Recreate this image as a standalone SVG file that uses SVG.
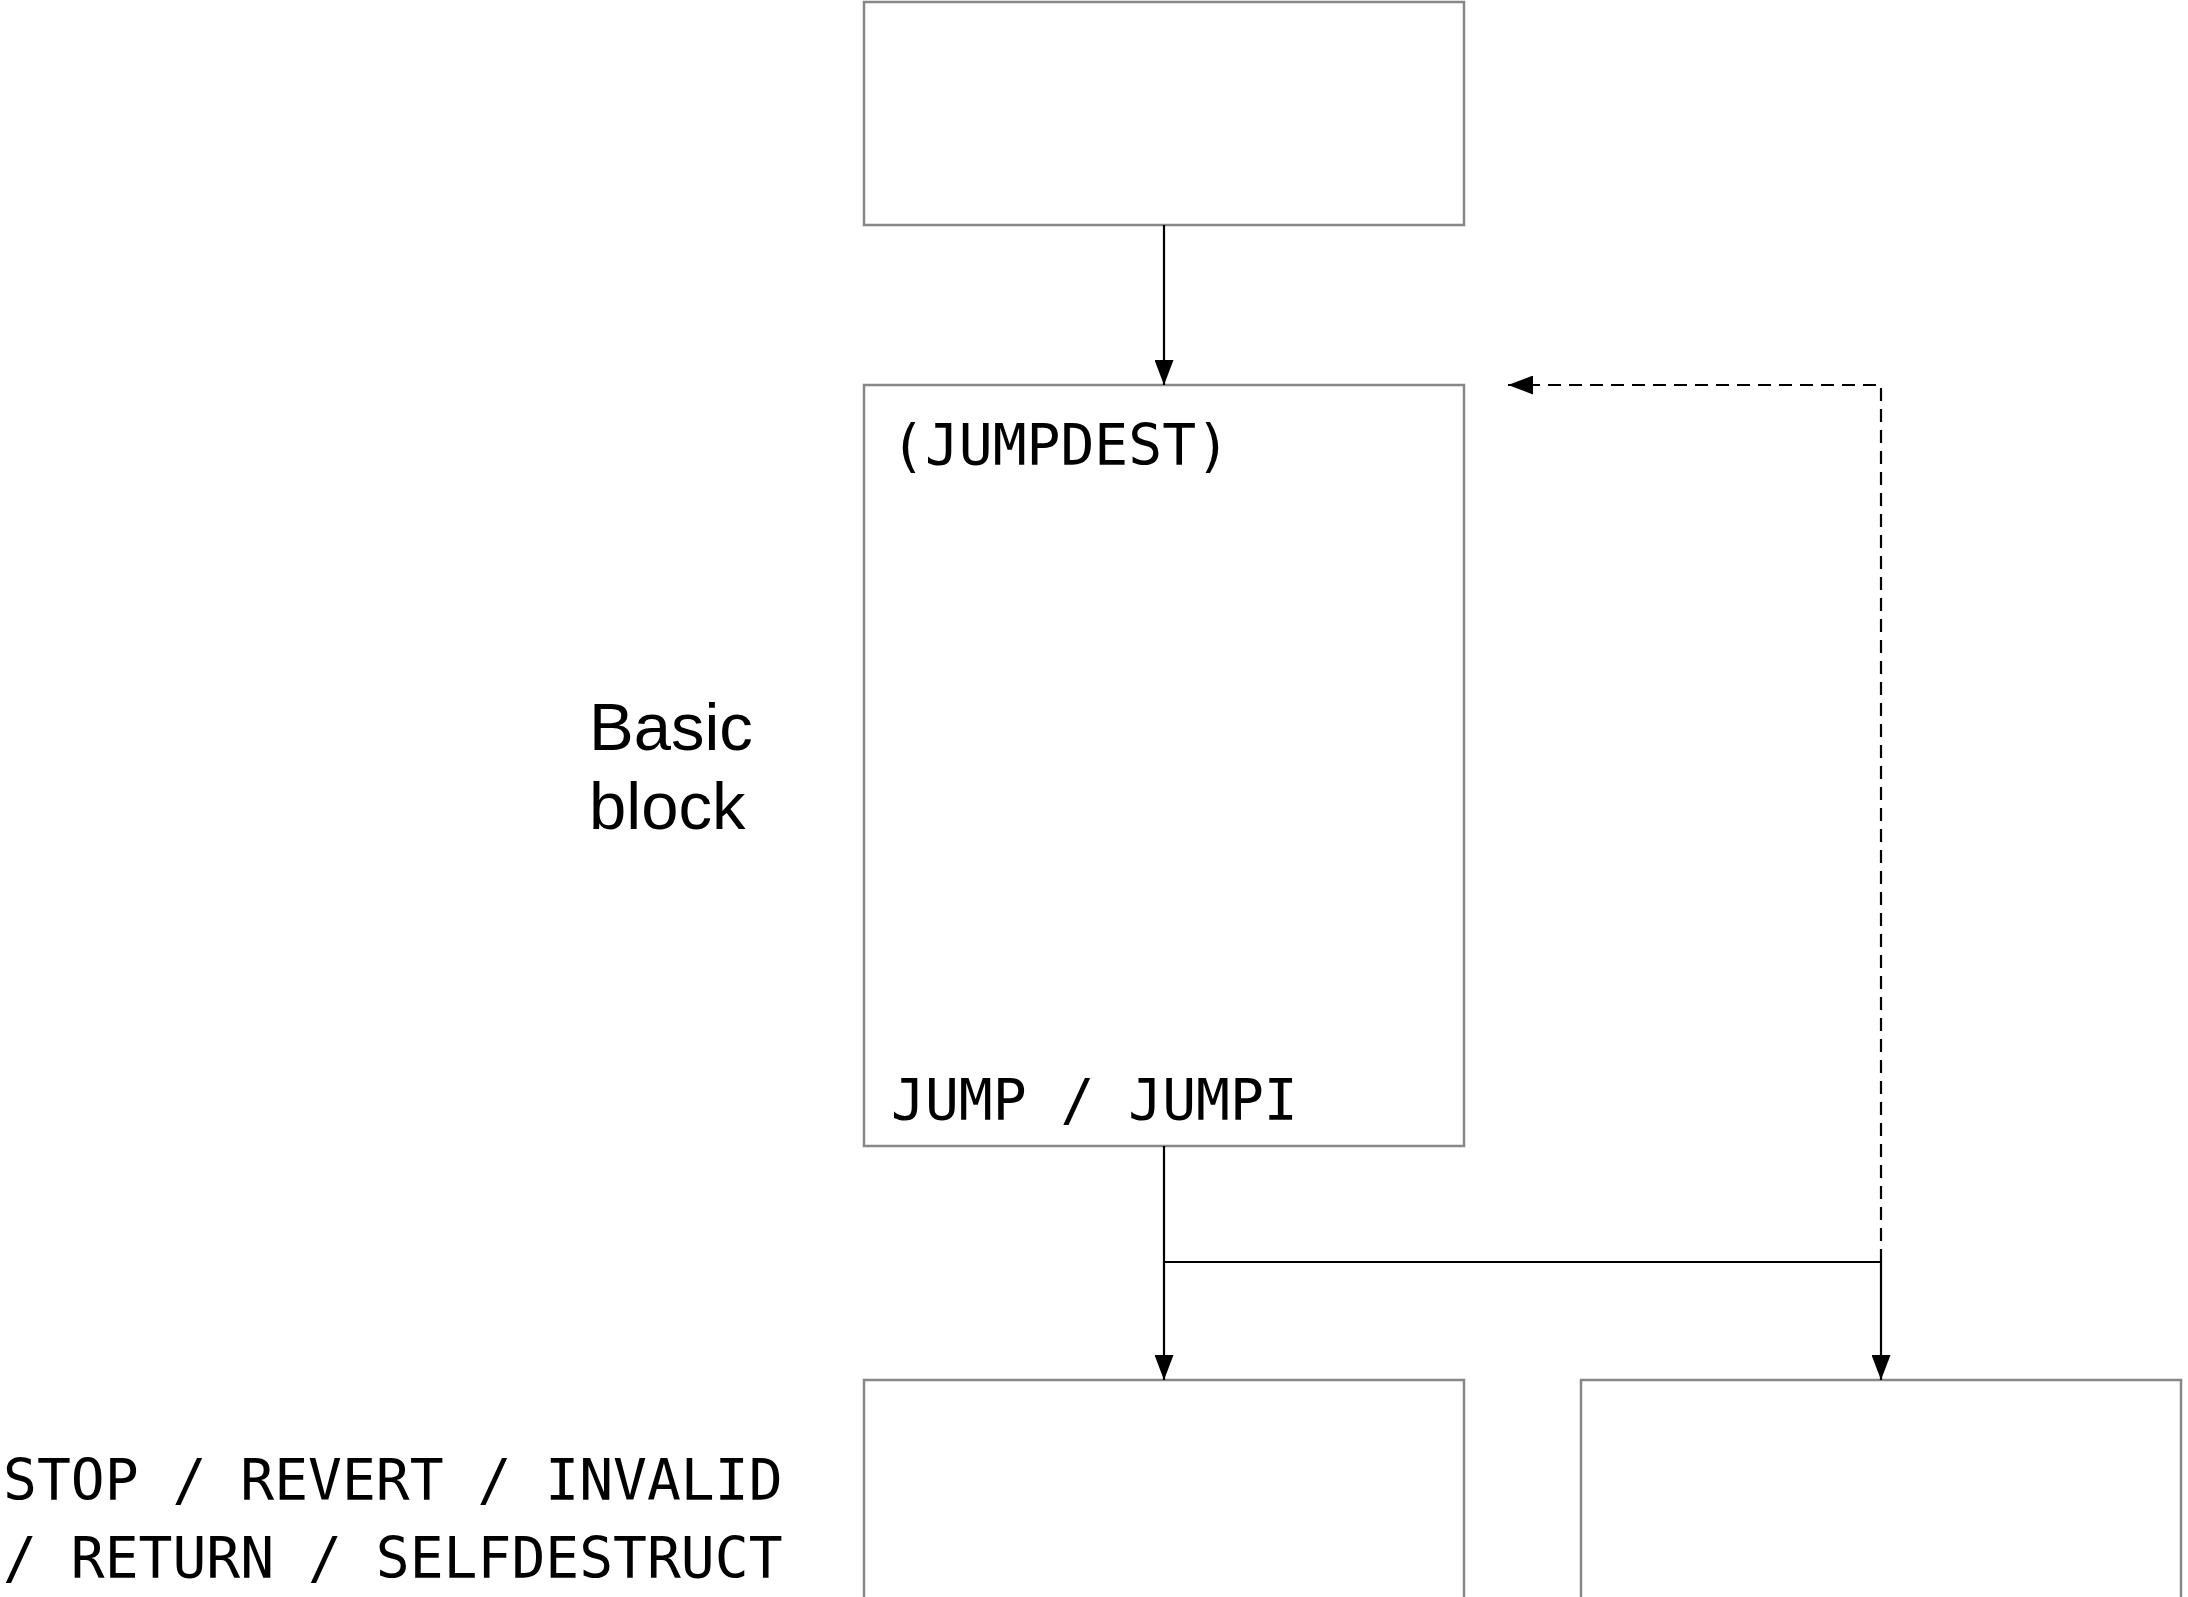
<svg xmlns="http://www.w3.org/2000/svg" width="2188" height="1597" viewBox="0 0 2188 1597">
  <style>
    .box { fill: #ffffff; stroke: #878787; stroke-width: 2.5; }
    .conn { fill: none; stroke: #000000; stroke-width: 2.2; }
    .dash { stroke-dasharray: 13 8; }
    .mono { font-family: "DejaVu Sans Mono", "Liberation Mono", monospace; font-size: 56.3px; fill: #000000; }
    .sans { font-family: "Liberation Sans", Arial, sans-serif; font-size: 67px; fill: #000000; }
  </style>
  <defs>
    <marker id="arrow" viewBox="0 0 25 19" refX="25" refY="9.5" markerWidth="25" markerHeight="19" markerUnits="userSpaceOnUse" orient="auto">
      <path d="M0,0 L25,9.5 L0,19 z" fill="#000000" stroke="none"/>
    </marker>
  </defs>
  <rect width="2188" height="1597" fill="#ffffff"/>

  <g id="node-top">
    <rect class="box" x="864" y="2" width="600" height="223"/>
  </g>

  <g id="node-basic-block">
    <rect class="box" x="864" y="385" width="600" height="761"/>
    <text class="mono" x="891" y="465">(JUMPDEST)</text>
    <text class="mono" x="891" y="1120">JUMP / JUMPI</text>
  </g>

  <g id="label-basic-block">
    <text class="sans" x="589" y="750">Basic</text>
    <text class="sans" x="589" y="829">block</text>
  </g>

  <g id="node-bottom-left">
    <rect class="box" x="864" y="1380" width="600" height="260"/>
  </g>

  <g id="node-bottom-right">
    <rect class="box" x="1581" y="1380" width="600" height="260"/>
  </g>

  <g id="label-terminators">
    <text class="mono" x="3" y="1500">STOP / REVERT / INVALID</text>
    <text class="mono" x="3" y="1578">/ RETURN / SELFDESTRUCT</text>
  </g>

  <g id="connectors">
    <path class="conn" d="M1164,225 L1164,385" marker-end="url(#arrow)"/>
    <path class="conn" d="M1164,1146 L1164,1380" marker-end="url(#arrow)"/>
    <path class="conn" d="M1164,1262 L1881,1262 L1881,1380" marker-end="url(#arrow)"/>
    <path class="conn dash" d="M1881,1262 L1881,385 L1508,385" marker-end="url(#arrow)"/>
  </g>
</svg>
